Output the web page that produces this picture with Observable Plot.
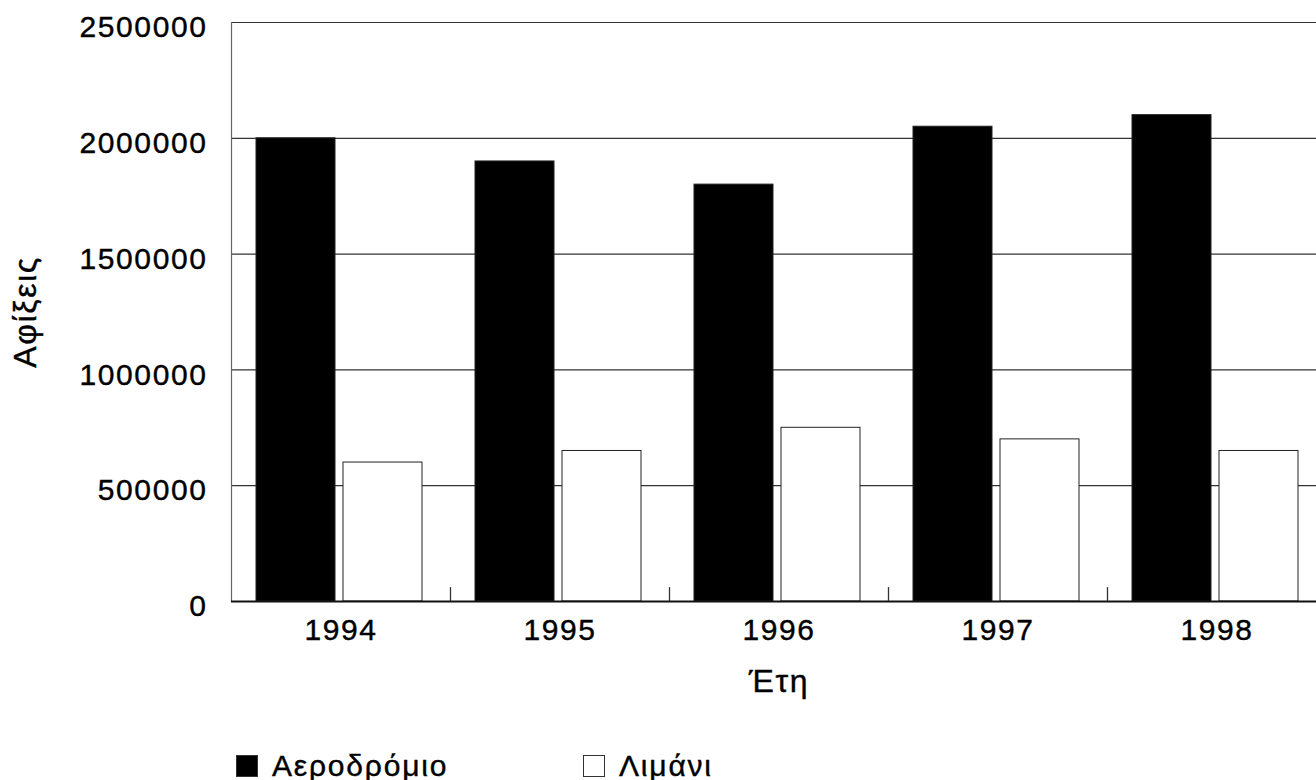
<!DOCTYPE html>
<html><head><meta charset="utf-8">
<script src="https://cdn.jsdelivr.net/npm/d3@7"></script>
<script src="https://cdn.jsdelivr.net/npm/@observablehq/plot@0.6"></script>
<style>
html,body{margin:0;padding:0;background:#fff;overflow:hidden;width:1316px;height:780px}
#chart svg{display:block;max-width:none !important;height:auto}
#chart text{stroke:#000;stroke-width:0.4px}
.legend{display:flex;align-items:center;height:36px;padding-top:4px;padding-left:236px;font-family:"Liberation Sans",Arial,sans-serif;font-size:30px;letter-spacing:1.8px;color:#000;-webkit-text-stroke:0.4px #000}
.item{display:flex;align-items:center;width:347px}
.sw{width:22px;height:22px;box-sizing:border-box;margin-right:14px;border:1px solid #333}
</style></head><body>
<div id="chart"></div>
<div class="legend" id="legend"></div>
<script>
const years = ["1994", "1995", "1996", "1997", "1998"];
const series = ["Αεροδρόμιο", "Λιμάνι"];
const airport = [2000000, 1900000, 1800000, 2050000, 2100000];
const port = [600000, 650000, 750000, 700000, 650000];
const yTicks = [0, 500000, 1000000, 1500000, 2000000, 2500000];
const colors = ["#000000", "#ffffff"];
const yLabel = "Αφίξεις";
const xLabel = "Έτη";

const data = years.flatMap((y, i) => [
  {year: y, series: series[0], value: airport[i]},
  {year: y, series: series[1], value: port[i]}
]);

const W = 1330, H = 744, mL = 231, mR = 4, mT = 22, mB = H - 601;
const facetW = (W - mL - mR) / years.length;

const plot = Plot.plot({
  width: W, height: H,
  marginLeft: mL, marginRight: mR, marginTop: mT, marginBottom: mB,
  style: {fontFamily: '"Liberation Sans", Arial, sans-serif', fontSize: "29px", letterSpacing: "1.6px", color: "#000", background: "#fff", maxWidth: "none"},
  fx: {domain: years, padding: 0},
  x: {domain: series, paddingInner: 0.09, paddingOuter: 0.29, align: 0.47, axis: null},
  y: {domain: [0, 2500000]},
  color: {domain: series, range: colors},
  marks: [
    Plot.gridY(yTicks, {stroke: "#333", strokeOpacity: 1, strokeWidth: 1.2}),
    Plot.frame({anchor: "left", facet: "super", stroke: "#666", strokeWidth: 1.2}),
    Plot.barY(data, {fx: "year", x: "series", y: "value", fill: "series", stroke: "#222", strokeWidth: 1}),
    Plot.ruleY([0], {stroke: "#111", strokeWidth: 2}),
    Plot.ruleX(years, {fx: d => d, x: null, y1: 0, y2: 60000, dx: facetW / 2, stroke: "#333", strokeWidth: 1.3}),
    Plot.axisY(yTicks, {tickSize: 0, tickPadding: 24, dy: 5, fontSize: 30, tickFormat: d => String(d), label: null}),
    Plot.axisY([], {label: yLabel, labelArrow: "none", labelAnchor: "center", labelOffset: 218, fontSize: 32}),
    Plot.axisFx({anchor: "bottom", tickSize: 0, tickPadding: 17, label: null, fontSize: 30}),
    Plot.axisFx([], {anchor: "bottom", label: xLabel, labelArrow: "none", labelAnchor: "center", labelOffset: 90, fontSize: 32})
  ]
});
document.getElementById("chart").appendChild(plot);

const legend = d3.select("#legend");
series.forEach((s, i) => {
  const it = legend.append("div").attr("class", "item");
  it.append("div").attr("class", "sw").style("background", colors[i]);
  it.append("span").text(s);
});
</script>
</body></html>
